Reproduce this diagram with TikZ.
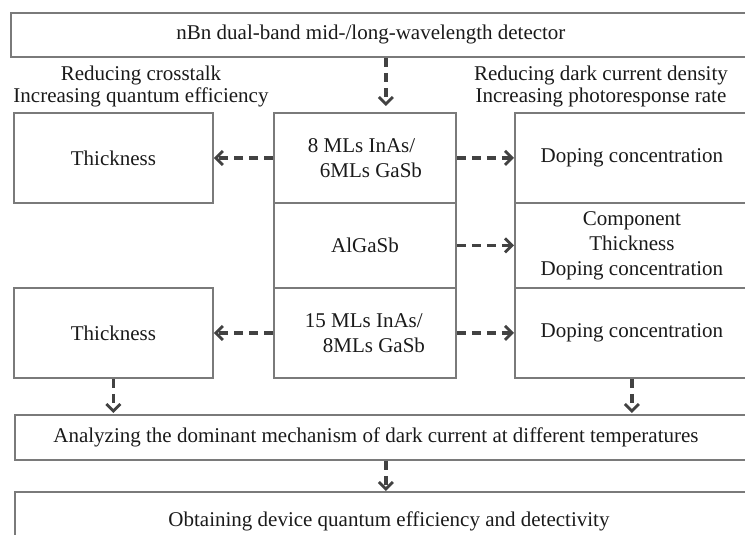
\documentclass[tikz,border=0pt]{standalone}
\usepackage{fontspec}
\setmainfont{Liberation Serif}
\usetikzlibrary{arrows.meta}
\definecolor{Ink}{HTML}{1A1A1A}
\definecolor{Frame}{HTML}{7A7A7A}
\definecolor{Flow}{HTML}{424242}

\begin{document}
\begin{tikzpicture}[x=1pt,y=-1pt,
  every node/.style={font=\fontsize{21}{25}\selectfont,text=Ink},
  cell/.style={draw=Frame,line width=1.9pt,inner sep=0pt,anchor=north west},
  aim/.style={align=center,font=\fontsize{21}{22}\selectfont},
  flow/.style={draw=Flow,line width=3.2pt,dash pattern=on 9pt off 6pt,
    -{Straight Barb[length=7pt,width=14pt,line width=2.8pt]}}]
  \useasboundingbox (0,0) rectangle (745,535);
  \clip (0,0) rectangle (745,535);
  \node[cell,minimum width=750,minimum height=44,
    label={[xshift=-15pt]center:nBn dual-band mid-/long-wavelength detector}] (det) at (10,12) {};
  \node[aim] (aimL) at (141,86) {Reducing crosstalk\\Increasing quantum efficiency};
  \node[aim] (aimR) at (601,86) {Reducing dark current density\\Increasing photoresponse rate};
  \node[cell,minimum width=199,minimum height=90] (thkA) at (13,112) {Thickness};
  \node[cell,minimum width=199,minimum height=90] (thkB) at (13,287) {Thickness};
  \node[cell,minimum width=182,minimum height=90,align=left] (slA) at (273,112)
    {8 MLs InAs/\\\hspace*{12pt}6MLs GaSb};
  \node[cell,minimum width=182,minimum height=85] (bar) at (273,202) {AlGaSb};
  \node[cell,minimum width=182,minimum height=90,align=left] (slB) at (273,287)
    {15 MLs InAs/\\\hspace*{18pt}8MLs GaSb};
  \node[cell,minimum width=234,minimum height=90] (dopA) at (514,112) {Doping concentration};
  \node[cell,minimum width=234,minimum height=85,align=center] (cmp) at (514,202)
    {Component\\Thickness\\Doping concentration};
  \node[cell,minimum width=234,minimum height=90] (dopB) at (514,287) {Doping concentration};
  \node[cell,minimum width=742,minimum height=45,
    label={[xshift=-10pt]center:Analyzing the dominant mechanism of dark current at different temperatures}] (ana) at (14,414) {};
  \node[cell,minimum width=742,minimum height=52,
    label={[xshift=3pt,yshift=-3pt]center:Obtaining device quantum efficiency and detectivity}] (obt) at (14,491) {};
  \foreach \a/\b in {slA.west/thkA.east,slA.east/dopA.west,bar.east/cmp.west,
    slB.west/thkB.east,slB.east/dopB.west,ana.south/obt.north}
    \draw[flow] (\a) -- (\b);
  \draw[flow,shorten >=6pt] (det.south) -- (det.south |- slA.north);
  \draw[flow,shorten >=1pt] (thkB.south) -- (thkB.south |- ana.north);
  \draw[flow,shorten >=1pt] (dopB.south) -- (dopB.south |- ana.north);
\end{tikzpicture}
\end{document}
